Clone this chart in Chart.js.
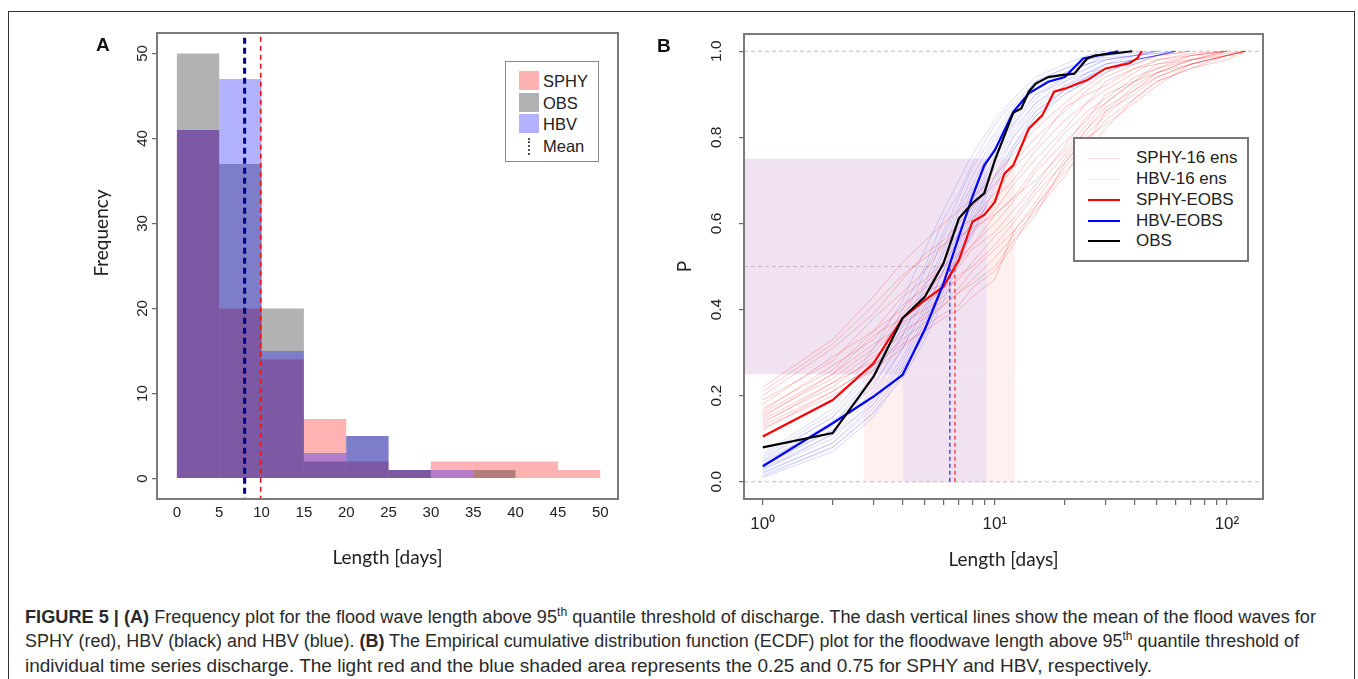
<!DOCTYPE html>
<html>
<head>
<meta charset="utf-8">
<script src="https://cdn.jsdelivr.net/npm/chart.js@4.4.1/dist/chart.umd.min.js"></script>
<style>
  body { margin: 0; width: 1358px; height: 679px; overflow: hidden; background: #fff; position: relative;
         font-family: "Liberation Sans", Arial, sans-serif; color: #222; }
  .abs { position: absolute; }
  canvas { display: block; }
  #frame { left: 8px; top: 11px; width: 1347px; height: 700px; border: 1.2px solid #333; box-sizing: border-box; }
  .panel { font-weight: bold; font-size: 19px; line-height: 19px; color: #111; }
  .ytitle { font-family: Lato, sans-serif; font-size: 19px; white-space: nowrap;
            transform: translate(-50%, -50%) rotate(-90deg); }
  .legbox { background: #fff; box-sizing: border-box; }
  .legtxt { white-space: nowrap; line-height: 20px; }
  .cap { left: 25px; white-space: nowrap; transform-origin: 0 0; font-size: 18px; line-height: 20px; color: #2a2a2a;
         font-family: "Liberation Sans Narrow", "Liberation Sans", Arial, sans-serif; }
  .cap sup { font-size: 12px; line-height: 0; vertical-align: 7px; }
</style>
</head>
<body>
<div id="frame" class="abs"></div>

<div class="abs" style="left:0;top:0;width:640px;height:580px"><canvas id="histA" width="640" height="580"></canvas></div>
<div class="abs" style="left:640px;top:0;width:700px;height:580px"><canvas id="ecdfB" width="700" height="580"></canvas></div>

<div class="abs panel" style="left:96px;top:34.5px">A</div>
<div class="abs panel" style="left:657px;top:35.5px">B</div>
<div class="abs ytitle" style="left:100px;top:233px">Frequency</div>

<!-- legend A -->
<div class="abs legbox" style="left:505px;top:61px;width:94px;height:101px;border:1.5px solid #888"></div>
<div class="abs" style="left:519px;top:71px;width:20px;height:19px;background:rgba(255,0,0,0.3)"></div>
<div class="abs" style="left:519px;top:92.5px;width:20px;height:19px;background:rgba(0,0,0,0.3)"></div>
<div class="abs" style="left:519px;top:114px;width:20px;height:19px;background:rgba(0,0,255,0.3)"></div>
<div class="abs" style="left:528px;top:138px;width:0;height:17px;border-left:2.5px dotted #555"></div>
<div class="abs legtxt" style="left:543px;top:71px;font-size:16.5px">SPHY</div>
<div class="abs legtxt" style="left:543px;top:93px;font-size:16.5px">OBS</div>
<div class="abs legtxt" style="left:543px;top:114px;font-size:16.5px">HBV</div>
<div class="abs legtxt" style="left:543px;top:136px;font-size:16.5px">Mean</div>

<!-- legend B -->
<div class="abs legbox" style="left:1073px;top:137px;width:176px;height:125px;border:2px solid #777"></div>
<div class="abs" style="left:1088px;top:158px;width:32px;height:1px;background:rgba(255,0,0,0.12)"></div>
<div class="abs" style="left:1088px;top:179px;width:32px;height:1px;background:rgba(0,0,255,0.08)"></div>
<div class="abs" style="left:1088px;top:199px;width:32px;height:2px;background:#ff0000"></div>
<div class="abs" style="left:1088px;top:220px;width:32px;height:2px;background:#0000ff"></div>
<div class="abs" style="left:1088px;top:240px;width:32px;height:2px;background:#000"></div>
<div class="abs legtxt" style="left:1136px;top:148px;font-size:17px">SPHY-16 ens</div>
<div class="abs legtxt" style="left:1136px;top:169px;font-size:17px">HBV-16 ens</div>
<div class="abs legtxt" style="left:1136px;top:190px;font-size:17px">SPHY-EOBS</div>
<div class="abs legtxt" style="left:1136px;top:211px;font-size:17px">HBV-EOBS</div>
<div class="abs legtxt" style="left:1136px;top:231px;font-size:17px">OBS</div>

<!-- caption -->
<div class="abs cap" data-w="1291" style="top:606.5px"><b>FIGURE 5 | (A)</b> Frequency plot for the flood wave length above 95<sup>th</sup> quantile threshold of discharge. The dash vertical lines show the mean of the flood waves for</div>
<div class="abs cap" data-w="1274" style="top:631px">SPHY (red), HBV (black) and HBV (blue). <b>(B)</b> The Empirical cumulative distribution function (ECDF) plot for the floodwave length above 95<sup>th</sup> quantile threshold of</div>
<div class="abs cap" data-w="1127" style="top:656px">individual time series discharge. The light red and the blue shaded area represents the 0.25 and 0.75 for SPHY and HBV, respectively.</div>

<script>
// --- Panel A: histogram of flood wave length (counts per 5-day bin) ---
const binCenters = [2.5, 7.5, 12.5, 17.5, 22.5, 27.5, 32.5, 37.5, 42.5, 47.5];
const sphyCounts = [41, 20, 14, 7, 2, 1, 2, 2, 2, 1];
const obsCounts  = [50, 37, 20, 2, 5, 1, 0, 1, 0, 0];
const hbvCounts  = [41, 47, 15, 3, 5, 1, 1, 0, 0, 0];
const meanHbv = 8.0;
const meanSphy = 9.9;
const xTicksA = [0, 5, 10, 15, 20, 25, 30, 35, 40, 45, 50];
const yTicksA = [0, 10, 20, 30, 40, 50];

// --- Panel B: ECDF of flood wave length ---
const obsX  = [1, 2, 3, 4, 5, 6, 7, 8, 9, 10, 12, 13, 14, 15, 17, 19, 22, 25, 27, 39];
const obsP  = [0.08, 0.113, 0.244, 0.38, 0.43, 0.507, 0.612, 0.647, 0.67, 0.747, 0.857, 0.867, 0.906, 0.925, 0.94, 0.944, 0.948, 0.983, 0.99, 1.0];
const sphyX = [1, 2, 3, 4, 5, 6, 7, 8, 9, 10, 11, 12, 14, 16, 18, 20, 25, 30, 38, 41, 43];
const sphyP = [0.105, 0.19, 0.275, 0.38, 0.422, 0.453, 0.515, 0.604, 0.62, 0.65, 0.716, 0.735, 0.82, 0.851, 0.906, 0.913, 0.933, 0.96, 0.972, 0.983, 1.0];
const hbvX  = [1, 2, 3, 4, 5, 6, 7, 8, 9, 10, 12, 14, 17, 20, 24, 34];
const hbvP  = [0.036, 0.136, 0.198, 0.248, 0.355, 0.46, 0.57, 0.662, 0.735, 0.77, 0.859, 0.902, 0.929, 0.94, 0.983, 1.0];

// ensemble members (16 each)
const sphyEnsX = [1, 2, 3, 4, 5, 6, 7, 8, 10, 12, 15, 20, 25, 30, 40, 50, 70, 100, 120];
const sphyEns = [
  [.22, .33, .43, .51, .56, .60, .63, .66, .71, .76, .82, .88, .92, .95, .98, .99, 1, null, null],
  [.20, .31, .39, .47, .53, .56, .60, .64, .69, .74, .80, .86, .91, .94, .97, .99, 1, null, null],
  [.19, .28, .38, .44, .49, .55, .59, .61, .67, .73, .78, .87, .90, .92, .96, .98, .995, 1, null],
  [.18, .29, .35, .43, .47, .51, .56, .60, .66, .70, .77, .84, .88, .93, .96, .97, .99, 1, null],
  [.17, .26, .35, .40, .46, .50, .53, .58, .63, .69, .75, .82, .88, .91, .95, .98, .99, 1, null],
  [.165, .27, .33, .41, .45, .48, .52, .55, .62, .66, .73, .81, .86, .89, .94, .96, .99, 1, null],
  [.16, .25, .34, .38, .43, .49, .51, .55, .60, .65, .72, .79, .84, .90, .93, .97, .98, .995, 1],
  [.155, .24, .31, .39, .44, .46, .50, .54, .58, .63, .69, .78, .85, .88, .93, .95, .98, 1, null],
  [.15, .25, .32, .36, .41, .45, .47, .51, .57, .61, .68, .76, .82, .87, .91, .95, .98, .99, 1],
  [.145, .23, .30, .37, .40, .43, .48, .50, .55, .60, .67, .74, .81, .85, .91, .94, .97, .99, 1],
  [.14, .22, .29, .34, .39, .42, .45, .49, .54, .58, .64, .73, .79, .86, .90, .94, .97, .99, 1],
  [.135, .23, .28, .35, .38, .41, .44, .47, .52, .57, .63, .71, .79, .84, .89, .93, .96, .99, 1],
  [.13, .21, .27, .33, .37, .41, .44, .46, .50, .56, .62, .74, .80, .83, .88, .92, .97, .99, 1],
  [.125, .20, .26, .31, .36, .39, .41, .45, .49, .55, .64, .72, .77, .82, .89, .93, .96, .98, 1],
  [.12, .21, .27, .32, .35, .38, .40, .43, .47, .58, .65, .75, .82, .86, .92, .95, .97, .99, 1],
  [.21, .32, .41, .48, .52, .55, .57, .59, .62, .66, .70, .77, .83, .88, .93, .96, .98, 1, null]
];
const hbvEnsX = [1, 2, 3, 4, 5, 6, 7, 8, 10, 12, 15, 20, 25, 30, 40, 50, 60];
const hbvEns = [
  [.065, .17, .31, .42, .54, .63, .70, .76, .84, .89, .94, .97, .99, 1, null, null, null],
  [.06, .16, .27, .40, .50, .61, .67, .74, .83, .88, .93, .96, .98, .99, 1, null, null],
  [.055, .15, .26, .37, .49, .58, .66, .73, .81, .87, .93, .96, .97, .99, 1, null, null],
  [.05, .15, .24, .36, .46, .57, .64, .71, .80, .86, .91, .95, .98, .99, .995, 1, null],
  [.048, .13, .25, .34, .45, .54, .63, .69, .79, .85, .92, .95, .97, .98, .99, 1, null],
  [.042, .14, .22, .34, .43, .53, .61, .68, .77, .84, .90, .94, .97, .985, .99, 1, null],
  [.04, .12, .23, .32, .43, .51, .60, .67, .78, .83, .89, .94, .96, .98, .99, 1, null],
  [.036, .12, .21, .31, .41, .51, .58, .65, .76, .83, .90, .93, .96, .98, .99, .995, 1],
  [.032, .11, .20, .31, .40, .49, .58, .64, .75, .82, .88, .93, .95, .97, .99, .995, 1],
  [.03, .10, .19, .29, .39, .49, .56, .63, .74, .81, .88, .92, .95, .97, .98, .99, 1],
  [.026, .11, .18, .28, .38, .47, .55, .62, .73, .80, .87, .92, .94, .97, .98, .99, 1],
  [.022, .09, .18, .27, .37, .46, .54, .61, .71, .80, .86, .91, .95, .96, .98, .99, 1],
  [.02, .09, .17, .26, .36, .45, .53, .60, .71, .78, .86, .91, .94, .96, .98, .99, 1],
  [.016, .08, .16, .26, .34, .44, .52, .59, .70, .78, .85, .90, .93, .96, .97, .99, 1],
  [.012, .08, .16, .24, .33, .42, .51, .58, .68, .77, .85, .91, .94, .96, .98, .99, 1],
  [.01, .07, .15, .25, .35, .45, .53, .57, .69, .77, .84, .90, .93, .95, .98, .99, 1]
];

// interquartile shading: P levels and x at P = 0.25 / 0.75
const bandP = [0, 0.25, 0.75];
const sphyBandX = [2.72, 12.2];
const hbvBandX = [4.0, 9.24];
const medianHbv = 6.4;
const medianSphy = 6.73;
const xRangeB = [0.83, 143];
const yRangeB = [-0.04, 1.04];
const xTicksB = [1, 2, 3, 4, 5, 6, 7, 8, 9, 10, 20, 30, 40, 50, 60, 70, 80, 90, 100];
const xMajorB = [1, 10, 100];
const xMajorLabelsB = ['10\u2070', '10\u00b9', '10\u00b2'];
const yTicksB = [0, 0.2, 0.4, 0.6, 0.8, 1.0];

const pts = (xs, ys) => xs.map((x, i) => ({ x: x, y: ys[i] }));

// frame round the plot region, like R's box()
const boxPlugin = {
  id: 'plotBox',
  afterDraw(chart) {
    const { ctx, chartArea: a } = chart;
    ctx.save();
    ctx.strokeStyle = '#7a7a7a';
    ctx.lineWidth = 2;
    ctx.strokeRect(a.left, a.top, a.right - a.left, a.bottom - a.top);
    ctx.restore();
  }
};

const tickFont = { family: 'Liberation Sans', size: 15 };
const titleFont = { family: 'Lato', size: 19 };

// --- chart A ---
const datasetsA = [
  { label: 'SPHY', data: pts(binCenters, sphyCounts), backgroundColor: 'rgba(255,0,0,0.3)' },
  { label: 'OBS', data: pts(binCenters, obsCounts), backgroundColor: 'rgba(0,0,0,0.3)' },
  { label: 'HBV', data: pts(binCenters, hbvCounts), backgroundColor: 'rgba(0,0,255,0.3)' },
  { type: 'line', data: [{ x: meanSphy, y: -10 }, { x: meanSphy, y: 60 }], borderColor: '#ee1111', borderWidth: 1.6, borderDash: [5, 4], pointRadius: 0 },
  { type: 'line', data: [{ x: meanHbv, y: -10 }, { x: meanHbv, y: 60 }], borderColor: '#00008b', borderWidth: 3, borderDash: [6, 4], pointRadius: 0 }
].map((d, i) => Object.assign(d, { order: -i }));

new Chart(document.getElementById('histA'), {
  type: 'bar',
  data: { datasets: datasetsA },
  options: {
    responsive: false,
    animation: false,
    layout: { padding: { left: 85, top: 33, right: 22, bottom: 0 } },
    plugins: { legend: { display: false }, tooltip: { enabled: false } },
    datasets: { bar: { barPercentage: 1, categoryPercentage: 1, grouped: false, borderWidth: 0, inflateAmount: 0 } },
    scales: {
      x: {
        type: 'linear', min: -2.35, max: 52.1, offset: false,
        afterBuildTicks: s => { s.ticks = xTicksA.map(v => ({ value: v })); },
        afterFit: s => { s.height = 81; },
        grid: { display: false, drawTicks: false, offset: false },
        border: { display: false },
        ticks: { autoSkip: false, maxRotation: 0, padding: 4.5, color: '#222', font: tickFont },
        title: { display: true, text: 'Length [days]', color: '#222', font: titleFont, padding: { top: 0, bottom: 10.6 } }
      },
      y: {
        type: 'linear', min: -2.4, max: 52.4,
        afterBuildTicks: s => { s.ticks = yTicksA.map(v => ({ value: v })); },
        afterFit: s => { s.width = 72; },
        grid: { drawOnChartArea: false, drawTicks: true, tickLength: 5, color: '#666', lineWidth: 1.2 },
        border: { display: false },
        ticks: { minRotation: 90, maxRotation: 90, crossAlign: 'center', padding: 1.2, color: '#222', font: tickFont }
      }
    }
  },
  plugins: [boxPlugin]
});

// --- chart B ---
const line = (data, color, width, extra) => Object.assign({
  type: 'line', data: data, borderColor: color, borderWidth: width, pointRadius: 0, tension: 0, fill: false
}, extra || {});
const band = (x0, x1, p, base, color) => line([{ x: x0, y: p }, { x: x1, y: p }], 'rgba(0,0,0,0)', 0,
  { fill: { value: base }, backgroundColor: color });

const grey = '#bdbdbd';
const datasetsB = [
  band(xRangeB[0], sphyBandX[1], bandP[2], bandP[1], 'rgba(255,0,0,0.06)'),
  band(sphyBandX[0], sphyBandX[1], bandP[1], bandP[0], 'rgba(255,0,0,0.06)'),
  band(xRangeB[0], hbvBandX[1], bandP[2], bandP[1], 'rgba(0,0,255,0.06)'),
  band(hbvBandX[0], hbvBandX[1], bandP[1], bandP[0], 'rgba(0,0,255,0.06)'),
  line([{ x: xRangeB[0], y: 0 }, { x: xRangeB[1], y: 0 }], grey, 1, { borderDash: [4, 3] }),
  line([{ x: xRangeB[0], y: 1 }, { x: xRangeB[1], y: 1 }], grey, 1, { borderDash: [4, 3] }),
  line([{ x: xRangeB[0], y: 0.5 }, { x: medianSphy, y: 0.5 }], grey, 1, { borderDash: [4, 3] })
];
sphyEns.forEach(p => datasetsB.push(line(pts(sphyEnsX, p), 'rgba(255,0,0,0.22)', 1)));
hbvEns.forEach(p => datasetsB.push(line(pts(hbvEnsX, p), 'rgba(0,0,255,0.15)', 1)));
datasetsB.push(line(pts(sphyX, sphyP), '#ff0000', 2.2));
datasetsB.push(line(pts(hbvX, hbvP), '#0000ff', 2.2));
datasetsB.push(line(pts(obsX, obsP), '#000000', 2.2));
datasetsB.push(line([{ x: medianHbv, y: 0 }, { x: medianHbv, y: 0.5 }], '#2222ff', 1.2, { borderDash: [4, 3] }));
datasetsB.push(line([{ x: medianSphy, y: 0 }, { x: medianSphy, y: 0.5 }], '#ff2222', 1.2, { borderDash: [4, 3] }));
datasetsB.forEach((d, i) => { d.order = -i; });

new Chart(document.getElementById('ecdfB'), {
  type: 'line',
  data: { datasets: datasetsB },
  options: {
    responsive: false,
    animation: false,
    layout: { padding: { left: 30, top: 34, right: 77, bottom: 0 } },
    plugins: { legend: { display: false }, tooltip: { enabled: false } },
    scales: {
      x: {
        type: 'logarithmic', min: xRangeB[0], max: xRangeB[1],
        afterBuildTicks: s => { s.ticks = xTicksB.map(v => ({ value: v })); },
        afterFit: s => { s.height = 81; },
        grid: { drawOnChartArea: false, drawTicks: true, tickLength: 6, color: '#666', lineWidth: 1.2 },
        border: { display: false },
        ticks: {
          autoSkip: false, maxRotation: 0, padding: 9, color: '#222',
          font: { family: 'Liberation Sans', size: 17 },
          callback: v => { const k = xMajorB.indexOf(v); return k < 0 ? '' : xMajorLabelsB[k]; }
        },
        title: { display: true, text: 'Length [days]', color: '#222', font: titleFont, padding: { top: 0, bottom: 8.6 } }
      },
      y: {
        type: 'linear', min: yRangeB[0], max: yRangeB[1],
        afterBuildTicks: s => { s.ticks = yTicksB.map(v => ({ value: v })); },
        afterFit: s => { s.width = 74; },
        grid: { drawOnChartArea: false, drawTicks: true, tickLength: 5, color: '#666', lineWidth: 1.2 },
        border: { display: false },
        ticks: {
          minRotation: 90, maxRotation: 90, crossAlign: 'center', padding: 12, color: '#222',
          font: { family: 'Liberation Sans', size: 15.5 },
          callback: v => v.toFixed(1)
        },
        title: { display: true, text: 'P', color: '#222', font: titleFont, padding: { top: 3.6, bottom: 0 } }
      }
    }
  },
  plugins: [boxPlugin]
});

// squeeze each caption line to the width it has in the figure
document.querySelectorAll('.cap').forEach(el => {
  const w = el.getBoundingClientRect().width;
  el.style.transform = 'scaleX(' + (+el.dataset.w / w) + ')';
});
</script>
</body>
</html>
